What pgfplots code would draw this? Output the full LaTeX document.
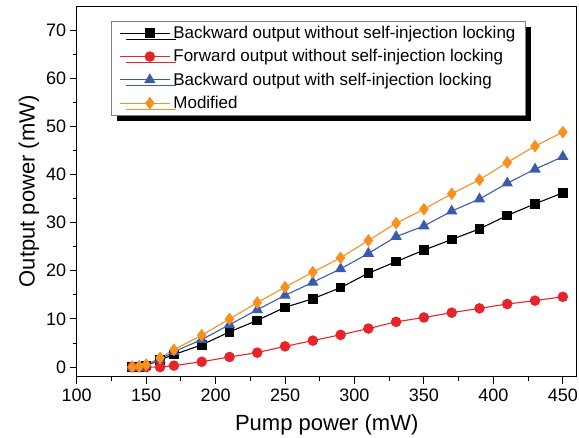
\documentclass[border=0pt]{standalone}
\usepackage{pgfplots}
\pgfplotsset{compat=1.18}
\usepackage{fontspec}
\setmainfont{Liberation Sans}
\usetikzlibrary{shadows}
\definecolor{cred}{RGB}{232,35,42}
\definecolor{cblue}{RGB}{58,91,169}
\definecolor{corange}{RGB}{247,144,30}
\begin{document}
\begin{tikzpicture}
\begin{axis}[
  name=ax,
  scale only axis,
  width=500pt, height=370.7pt,
  xmin=100, xmax=460, ymin=-2, ymax=75,
  xtick={100,150,...,450}, ytick={0,10,...,70},
  minor x tick num=1, minor y tick num=1,
  tick align=outside, xtick pos=bottom, ytick pos=left,
  major tick length=7pt, minor tick length=4pt,
  axis line style={line width=0.9pt},
  every tick/.style={black, line width=0.9pt},
  /pgf/number format/assume math mode=true,
  ticklabel style={font=\fontsize{18}{20}\selectfont},
  xticklabel style={yshift=-2pt},
  xlabel={Pump power (mW)}, ylabel={Output power (mW)},
  xlabel style={yshift=-6pt},
  label style={font=\fontsize{22}{24}\selectfont},
  legend style={at={(0.0686,0.9595)}, anchor=north west, draw=gray, line width=0.6pt,
    font=\fontsize{17}{20}\selectfont, row sep=5.5pt, column sep=1pt,
    drop shadow={shadow xshift=6pt, shadow yshift=-6pt, fill=black, opacity=1},
    inner xsep=8pt, inner ysep=3pt},
  legend cell align=left,
  legend image code/.code={\path (0pt,0pt) -- (50pt,0pt); \draw[#1, line width=1.1pt] (10pt,0pt) -- (50pt,0pt); \draw[#1,mark repeat=1] plot coordinates {(30pt,0pt)};},
  every axis plot/.append style={line width=1.1pt},
]
\addplot[black, mark=square*, mark size=4.3pt, mark options={solid}] coordinates {
(140,0) (145,0.05) (150,0.3) (160,1.5) (170,2.6) (190,4.6) (210,7.3) (230,9.7) (250,12.4) (270,14.2) (290,16.5) (310,19.5) (330,21.9) (350,24.3) (370,26.5) (390,28.7) (410,31.5) (430,33.9) (450,36.2)};
\addlegendentry{Backward output without self-injection locking}
\addplot[cred, mark=*, mark size=4.7pt] coordinates {
(140,0) (145,0) (150,0) (160,0.0) (170,0.3) (190,1.1) (210,2.1) (230,3.0) (250,4.3) (270,5.5) (290,6.7) (310,8.0) (330,9.4) (350,10.3) (370,11.3) (390,12.2) (410,13.1) (430,13.8) (450,14.6)};
\addlegendentry{Forward output without self-injection locking}
\addplot[cblue, mark=triangle*, mark size=5.5pt] coordinates {
(140,0) (145,0.1) (150,0.4) (160,1.6) (170,3.2) (190,5.7) (210,8.8) (230,11.9) (250,14.9) (270,17.6) (290,20.4) (310,23.6) (330,27.1) (350,29.3) (370,32.4) (390,34.9) (410,38.2) (430,41.1) (450,43.7)};
\addlegendentry{Backward output with self-injection locking}
\addplot[corange, mark=diamond*, mark size=5.5pt] coordinates {
(140,0) (145,0.1) (150,0.5) (160,1.9) (170,3.6) (190,6.6) (210,10.0) (230,13.4) (250,16.6) (270,19.7) (290,22.7) (310,26.3) (330,29.9) (350,32.8) (370,36.0) (390,38.9) (410,42.5) (430,45.9) (450,48.8)};
\addlegendentry{Modified}
\end{axis}
\pgfresetboundingbox
\path (-76.7pt,-61.3pt) rectangle (502.3pt,376.7pt);
\end{tikzpicture}
\end{document}
